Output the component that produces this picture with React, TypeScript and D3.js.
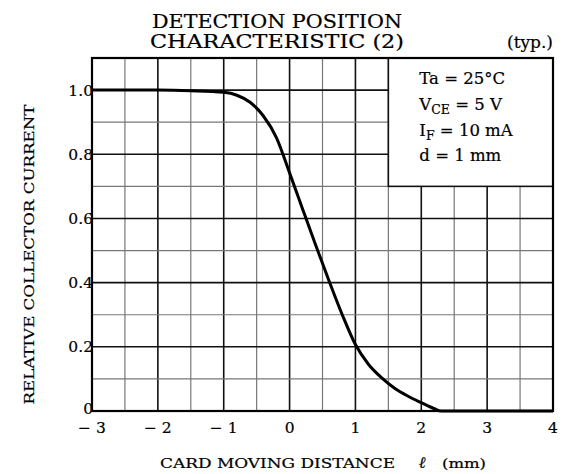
import * as d3 from 'd3';

const X_TICKS = [-3, -2, -1, 0, 1, 2, 3, 4];
const Y_TICKS = [0, 0.2, 0.4, 0.6, 0.8, 1.0];
const Y_TICK_LABELS = ['0', '0.2', '0.4', '0.6', '0.8', '1.0'];

// curve: distance (mm) -> relative collector current
const DIST = [-3, -2, -1.5, -1, -0.8, -0.6, -0.4, -0.2, 0, 0.2, 0.4, 0.6, 0.8, 1.0, 1.2, 1.4, 1.6, 1.8, 2.0, 2.2, 2.3, 3, 4];
const CURRENT = [1.0, 1.0, 0.998, 0.993, 0.984, 0.962, 0.92, 0.852, 0.742, 0.628, 0.515, 0.405, 0.3, 0.207, 0.145, 0.103, 0.07, 0.046, 0.026, 0.007, 0, 0, 0];

const CONDITIONS = [
  { main: 'Ta = 25°C', sub: '', rest: '' },
  { main: 'V', sub: 'CE', rest: ' = 5 V' },
  { main: 'I', sub: 'F', rest: ' = 10 mA' },
  { main: 'd = 1 mm', sub: '', rest: '' },
];

const FONT = "'DejaVu Serif', 'Liberation Serif', serif";

export default function App() {
  const W = 562;
  const H = 474;
  const m = { left: 92, right: 9, top: 58, bottom: 63 };
  const iW = W - m.left - m.right;
  const iH = H - m.top - m.bottom;

  const x = d3.scaleLinear().domain([-3, 4]).range([0, iW]);
  const y = d3.scaleLinear().domain([0, 1.1]).range([iH, 0]);

  const vLines = d3.range(-3, 4.01, 0.5);
  const hLines = d3.range(0, 1.101, 0.1);
  const boxX = x(1.5);
  const boxY = y(1.1);
  const boxH = y(0.7) - y(1.1);

  const line = d3
    .line<number>()
    .x((_, i) => x(DIST[i]))
    .y((d) => y(d))
    .curve(d3.curveMonotoneX);

  const ink = { stroke: '#000', strokeWidth: 0.2 };

  return (
    <svg width={W} height={H} style={{ position: 'absolute', left: 0, top: 0, background: '#fff' }} fontFamily={FONT}>
      <g {...ink}>
        <text x={277} y={28} textAnchor="middle" fontSize={19} textLength={250} lengthAdjust="spacingAndGlyphs">DETECTION POSITION</text>
        <text x={277} y={48} textAnchor="middle" fontSize={19} textLength={254} lengthAdjust="spacingAndGlyphs">CHARACTERISTIC (2)</text>
        <text x={553} y={48} textAnchor="end" fontSize={17}>(typ.)</text>
      </g>

      <g transform={`translate(${m.left},${m.top})`}>
        {vLines.map((v) => {
          const major = Math.abs(v - Math.round(v)) < 1e-6;
          return (
            <line key={'v' + v} x1={x(v)} x2={x(v)} y1={0} y2={iH}
              stroke={major ? '#111' : '#777'} strokeWidth={major ? 1.6 : 1.2} />
          );
        })}
        {hLines.map((h, i) => {
          const major = i % 2 === 0;
          return (
            <line key={'h' + i} x1={0} x2={iW} y1={y(h)} y2={y(h)}
              stroke={major ? '#111' : '#777'} strokeWidth={major ? 1.6 : 1.2} />
          );
        })}

        <rect x={boxX} y={boxY} width={iW - boxX} height={boxH} fill="#fff" stroke="#111" strokeWidth={1.6} />
        <g {...ink}>
          {CONDITIONS.map((c, i) => (
            <text key={i} x={boxX + 31} y={boxY + 26 + i * 25.8} fontSize={16.5}>
              {c.main}
              {c.sub && <tspan fontSize={12.5} dy={4}>{c.sub}</tspan>}
              {c.rest && <tspan dy={c.sub ? -4 : 0}>{c.rest}</tspan>}
            </text>
          ))}
        </g>

        <path d={line(CURRENT) || ''} fill="none" stroke="#000" strokeWidth={3} strokeLinejoin="round" />

        <rect x={0} y={0} width={iW} height={iH} fill="none" stroke="#000" strokeWidth={2.2} />

        <g {...ink}>
          {Y_TICKS.map((t, i) => (
            <text key={'yt' + t} x={1} y={y(t) + (t === 0 ? 3 : 5.5)} textAnchor="end" fontSize={15.5}>{Y_TICK_LABELS[i]}</text>
          ))}
          {X_TICKS.map((t) => (
            <text key={'xt' + t} x={x(t)} y={iH + 22} textAnchor="middle" fontSize={15.5}>
              {t < 0 ? '− ' + Math.abs(t) : String(t)}
            </text>
          ))}
        </g>
      </g>

      <g {...ink}>
        <text transform={`translate(34,${m.top + iH / 2 + 20}) rotate(-90)`} textAnchor="middle" fontSize={13.5}
          textLength={300} lengthAdjust="spacingAndGlyphs">
          RELATIVE COLLECTOR CURRENT
        </text>
        <text x={160} y={468} fontSize={13.5} textLength={235} lengthAdjust="spacingAndGlyphs">CARD MOVING DISTANCE</text>
        <text x={422} y={468} textAnchor="middle" fontStyle="italic" fontSize={16}>ℓ</text>
        <text x={442} y={468} fontSize={13.5} textLength={44} lengthAdjust="spacingAndGlyphs">(mm)</text>
      </g>
    </svg>
  );
}
